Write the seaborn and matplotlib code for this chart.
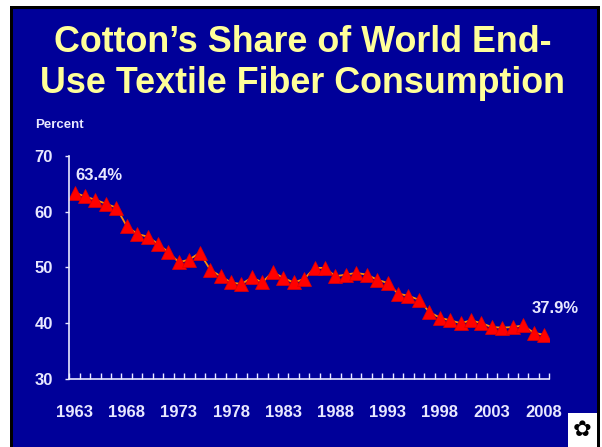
import matplotlib
matplotlib.use('Agg')
import matplotlib.pyplot as plt
import seaborn as sns
import pandas as pd
import numpy as np
from matplotlib.patches import Rectangle
from matplotlib.ticker import FixedLocator

# Cotton share of world end-use textile fiber consumption, percent
years = list(range(1963, 2009))
share = [63.4, 62.7, 62.1, 61.4, 60.7, 57.4, 56.0, 55.5, 54.2, 52.7,
         50.9, 51.4, 52.6, 49.6, 48.4, 47.3, 47.0, 48.2, 47.3, 49.2,
         48.1, 47.3, 47.9, 49.9, 49.9, 48.4, 48.7, 49.0, 48.7, 47.8,
         47.2, 45.3, 44.9, 44.2, 42.0, 41.0, 40.5, 40.0, 40.5, 40.0,
         39.3, 39.2, 39.3, 39.6, 38.3, 37.9]
label_years = list(range(1963, 2009, 5))
y_ticks = [30, 40, 50, 60, 70]

df = pd.DataFrame({'Year': years, 'Share': share})

BLUE = '#000099'
YELLOW = '#FFFF99'
PALE = '#E8E8FF'

sns.set_style('white')
plt.rcParams['font.family'] = ['Liberation Sans', 'DejaVu Sans']

fig = plt.figure(figsize=(6.02, 4.47), dpi=100, facecolor='white')
W, H = 602, 447

# slide frame: black border and blue panel (behind the axes)
fig.patches.append(Rectangle((10 / W, 0), 590 / W, 441 / H, transform=fig.transFigure,
                             facecolor='black', edgecolor='none', zorder=-2))
fig.patches.append(Rectangle((13 / W, 0), 584 / W, 438 / H, transform=fig.transFigure,
                             facecolor=BLUE, edgecolor='none', zorder=-1))

ax = fig.add_axes([69.3 / W, 1 - 379 / H, 480 / W, (379 - 155.7) / H])
ax.patch.set_alpha(0)

sns.lineplot(data=df, x='Year', y='Share', ax=ax, color='#FF8C00', linewidth=1.3,
             marker='^', markersize=10, markerfacecolor='#FF0000',
             markeredgecolor='#E00000', markeredgewidth=0.5)

ax.set_xlim(1962.5, 2008.5)
ax.set_ylim(30, 70)
ax.set_xlabel('')
ax.set_ylabel('')

for side in ['top', 'right']:
    ax.spines[side].set_visible(False)
for side in ['left', 'bottom']:
    ax.spines[side].set_color(PALE)
    ax.spines[side].set_linewidth(1.2)

ax.set_yticks(y_ticks)
ax.set_yticklabels([str(v) for v in y_ticks])
ax.tick_params(axis='y', left=True, direction='out', length=3, width=1, color=PALE,
               labelcolor=PALE, labelsize=12, pad=9)
for lbl in ax.get_yticklabels():
    lbl.set_fontweight('bold')

ax.set_xticks(label_years)
ax.set_xticklabels([str(v) for v in label_years])
ax.xaxis.set_minor_locator(FixedLocator(np.arange(1962.5, 2009, 1.0)))
ax.tick_params(axis='x', which='major', bottom=True, length=0, labelcolor=PALE,
               labelsize=12, pad=19)
ax.tick_params(axis='x', which='minor', bottom=True, direction='in', length=4,
               width=1, color=PALE)
for lbl in ax.get_xticklabels():
    lbl.set_fontweight('bold')

# end point labels
ax.annotate(f'{share[0]}%', xy=(years[0], share[0]), xytext=(1, 10), textcoords='offset pixels',
            color=PALE, fontsize=12, fontweight='bold', ha='left', va='bottom')
ax.annotate(f'{share[-1]}%', xy=(years[-1], share[-1]), xytext=(-12, 26), textcoords='offset pixels',
            color=PALE, fontsize=12, fontweight='bold', ha='left', va='center')

# title and unit label
fig.text(0.503, 1 - 52 / H, 'Cotton\u2019s Share of World End-', color=YELLOW,
         fontsize=25.8, fontweight='bold', ha='center', va='baseline')
fig.text(0.503, 1 - 93 / H, 'Use Textile Fiber Consumption', color=YELLOW,
         fontsize=25.8, fontweight='bold', ha='center', va='baseline')
fig.text(35 / W, 1 - 125 / H, 'Percent', color=PALE, fontsize=9.5,
         fontweight='bold', ha='left', va='center')

# small cotton badge in the corner
fig.patches.append(Rectangle((568 / W, 0), 29 / W, 34 / H, transform=fig.transFigure,
                             facecolor='white', edgecolor='none', zorder=1))
fig.text(582 / W, 17 / H, '\u273f', color='black', fontsize=16, ha='center', va='center',
         family=['DejaVu Sans'])

fig.savefig('out.png', dpi=100, facecolor=fig.get_facecolor())
plt.close(fig)
